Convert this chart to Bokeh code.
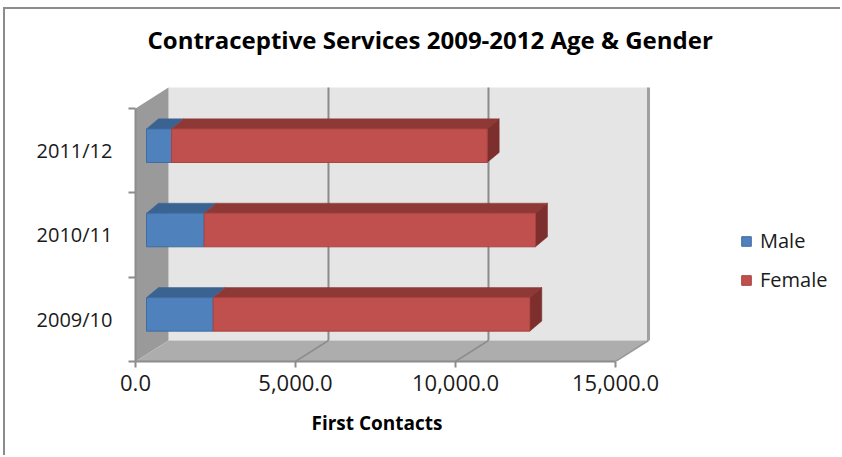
from bokeh.plotting import figure
from bokeh.models import (FixedTicker, NumeralTickFormatter, Legend, LegendItem, Range1d, Title)
from bokeh.embed import file_html
from bokeh.resources import INLINE

# ---------------- data ----------------
categories = ["2009/10", "2010/11", "2011/12"]
male = [2084, 1803, 781]
female = [9894, 10353, 9866]
x_ticks = [0, 5000, 10000, 15000]
series = ["Male", "Female"]
chart_title = "Contraceptive Services 2009-2012 Age & Gender"
x_title = "First Contacts"

# ---------------- style constants (pseudo-3D geometry) ----------------
WALL_DX, WALL_DY = 1031, 0.249      # depth of the walls (x units, category units)
BAR_X0, BAR_Y0 = 344, 0.059         # offset of bar front face from the front plane
BAR_DX, BAR_DY = 375, 0.119         # depth of the bars
HALF_H = 0.199                      # half height of a bar
FONT = "Open Sans"
GRID = "#8C8C8C"

n = len(categories)
ymin, ymax = -0.5, n - 0.5
X_MAX = x_ticks[-1]

p = figure(width=837, height=448, output_backend="svg", toolbar_location=None,
           x_range=Range1d(0, 21937.5), y_range=Range1d(-0.5, 3.069),
           min_border_left=130, min_border_right=5, min_border_top=51,
           min_border_bottom=96)
p.styles = {"margin-left": "3px", "margin-top": "7px",
            "border-left": "2px solid #8C8C8C", "border-top": "2px solid #8C8C8C"}
p.grid.visible = False
p.outline_line_color = None

# ---- walls & floor ----
p.patch([WALL_DX, X_MAX + WALL_DX, X_MAX + WALL_DX, WALL_DX],
        [ymin + WALL_DY, ymin + WALL_DY, ymax + WALL_DY, ymax + WALL_DY],
        fill_color="#E5E5E5", line_color=None)
p.patch([0, WALL_DX, WALL_DX, 0],
        [ymin, ymin + WALL_DY, ymax + WALL_DY, ymax],
        fill_color="#9A9A9A", line_color=None)
p.patch([0, X_MAX, X_MAX + WALL_DX, WALL_DX],
        [ymin, ymin, ymin + WALL_DY, ymin + WALL_DY],
        fill_color="#ADADAD", line_color=None)

inner = x_ticks[1:-1]
# gridlines on back wall
p.segment(x0=[v + WALL_DX for v in inner], y0=[ymin + WALL_DY] * len(inner),
          x1=[v + WALL_DX for v in inner], y1=[ymax + WALL_DY] * len(inner),
          line_color=GRID, line_width=2)
# gridlines on floor
p.segment(x0=inner, y0=[ymin] * len(inner),
          x1=[v + WALL_DX for v in inner], y1=[ymin + WALL_DY] * len(inner),
          line_color=GRID, line_width=1.5)
# right edge of back wall and floor
p.segment(x0=[X_MAX + WALL_DX], y0=[ymin + WALL_DY], x1=[X_MAX + WALL_DX], y1=[ymax + WALL_DY],
          line_color="#A0A0A0", line_width=3)
p.segment(x0=[X_MAX], y0=[ymin], x1=[X_MAX + WALL_DX], y1=[ymin + WALL_DY],
          line_color="#999999", line_width=1.5)

# ---- bars ----
ys = list(range(n))
totals = [m + f for m, f in zip(male, female)]
stacks = [([0] * n, male), (male, totals)]
front_cols = ["#4F81BD", "#C0504D"]
edge_cols = ["#3E6DA3", "#A8423F"]
top_cols = ["#3A6392", "#8F3937"]
side_col = "#7D2F2D"

front_renderers = []
for k, (lefts, rights) in enumerate(stacks):
    bottoms = [y + BAR_Y0 - HALF_H for y in ys]
    tops = [y + BAR_Y0 + HALF_H for y in ys]
    # top faces
    p.patches(xs=[[BAR_X0 + l, BAR_X0 + r, BAR_X0 + r + BAR_DX, BAR_X0 + l + BAR_DX]
                  for l, r in zip(lefts, rights)],
              ys=[[t, t, t + BAR_DY, t + BAR_DY] for t in tops],
              fill_color=top_cols[k], line_color=top_cols[k], line_width=0.5)
    if k == len(stacks) - 1:
        p.patches(xs=[[BAR_X0 + r, BAR_X0 + r + BAR_DX, BAR_X0 + r + BAR_DX, BAR_X0 + r]
                      for r in rights],
                  ys=[[b, b + BAR_DY, t + BAR_DY, t] for b, t in zip(bottoms, tops)],
                  fill_color=side_col, line_color=side_col, line_width=0.5)
    r = p.quad(left=[BAR_X0 + l for l in lefts], right=[BAR_X0 + r for r in rights],
               bottom=bottoms, top=tops,
               fill_color=front_cols[k], line_color=edge_cols[k], line_width=1)
    front_renderers.append(r)

# ---- axes ----
xa = p.below[0]
xa.ticker = FixedTicker(ticks=x_ticks)
xa.formatter = NumeralTickFormatter(format="0,0.0")
xa.bounds = (0, X_MAX)
xa.axis_line_color = GRID
xa.axis_line_width = 2
xa.major_tick_line_color = GRID
xa.major_tick_line_width = 2
xa.major_tick_out = 6
xa.major_tick_in = 0
xa.minor_tick_line_color = None
xa.major_label_standoff = 7
xa.major_label_text_font = FONT
xa.major_label_text_font_size = "22px"
xa.major_label_text_color = "#1A1A1A"

# axis title, centred under the 0..15,000 span of the axis
p.add_layout(Title(text=x_title, align="left", offset=176, standoff=28,
                   text_font=FONT, text_font_size="19px", text_font_style="bold",
                   text_color="#000000"), "below")

ya = p.left[0]
ya.ticker = FixedTicker(ticks=ys, minor_ticks=[y - 0.5 for y in ys] + [ys[-1] + 0.5])
ya.major_label_overrides = {y: c for y, c in zip(ys, categories)}
ya.bounds = (ymin, ymax)
ya.axis_line_color = GRID
ya.axis_line_width = 2
ya.major_tick_line_color = None
ya.major_tick_out = 0
ya.major_tick_in = 0
ya.minor_tick_line_color = GRID
ya.minor_tick_line_width = 2
ya.minor_tick_out = 7
ya.minor_tick_in = 0
ya.major_label_standoff = 16
ya.major_label_text_font = FONT
ya.major_label_text_font_size = "20px"
ya.major_label_text_color = "#1A1A1A"

# ---- title ----
p.title.text = chart_title
p.title.text_font = FONT
p.title.text_font_size = "24px"
p.title.text_font_style = "bold"
p.title.text_color = "#000000"
p.title.align = "left"
p.title.offset = 12

# ---- legend ----
legend = Legend(items=[LegendItem(label=s, renderers=[r]) for s, r in zip(series, front_renderers)],
                location=(605, 68), orientation="vertical",
                glyph_width=12, glyph_height=12, label_standoff=8,
                label_height=20, spacing=12, padding=0, margin=0,
                border_line_color=None, background_fill_alpha=0,
                label_text_font=FONT, label_text_font_size="20px",
                label_text_color="#1A1A1A")
p.add_layout(legend)

open("out.html", "w").write(file_html(p, INLINE))
